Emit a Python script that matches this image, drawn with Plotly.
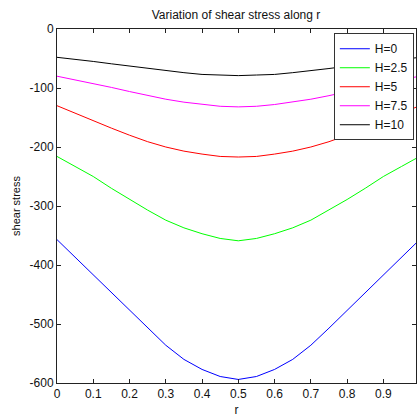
import plotly.graph_objects as go

# radial positions
r = [0.00, 0.05, 0.10, 0.15, 0.20, 0.25, 0.30, 0.35, 0.40, 0.45, 0.50,
     0.55, 0.60, 0.65, 0.70, 0.75, 0.80, 0.85, 0.90, 0.95, 1.00]

# shear stress for each H
tau_h0 = [-357, -387, -417, -447, -477, -507, -536, -560, -577, -589, -594,
          -589, -577, -560, -536, -507, -477, -447, -417, -387, -357]
tau_h2_5 = [-216, -233, -250, -270, -289, -307, -324, -337, -347, -355, -359,
            -355, -347, -337, -324, -307, -289, -270, -250, -233, -216]
tau_h5 = [-130, -143, -155, -168, -180, -191, -200, -207, -212, -216, -217,
          -216, -212, -207, -200, -191, -180, -168, -155, -143, -130]
tau_h7_5 = [-80, -86, -92, -99, -106, -113, -119, -124, -128, -131, -132,
            -131, -128, -124, -119, -113, -106, -99, -92, -86, -80]
tau_h10 = [-48, -51, -55, -59, -63, -67, -71, -74, -77, -78, -79,
           -78, -77, -74, -71, -67, -63, -59, -55, -51, -48]

series = [
    ("H=0", tau_h0, "#0000ff"),
    ("H=2.5", tau_h2_5, "#00ff00"),
    ("H=5", tau_h5, "#ff0000"),
    ("H=7.5", tau_h7_5, "#ff00ff"),
    ("H=10", tau_h10, "#000000"),
]

x_ticks = [0, 0.1, 0.2, 0.3, 0.4, 0.5, 0.6, 0.7, 0.8, 0.9]
x_tick_text = ["0", "0.1", "0.2", "0.3", "0.4", "0.5", "0.6", "0.7", "0.8", "0.9"]
y_ticks = [0, -100, -200, -300, -400, -500, -600]
y_tick_text = ["0", "-100", "-200", "-300", "-400", "-500", "-600"]

font_family = "Liberation Sans Narrow, Liberation Sans, Arial, sans-serif"

fig = go.Figure()
for name, vals, color in series:
    fig.add_trace(go.Scatter(x=r, y=vals, mode="lines", name=name,
                             line=dict(color=color, width=1)))

axis_common = dict(
    showline=True, linecolor="#222222", linewidth=1, mirror="ticks",
    ticks="inside", ticklen=4, tickcolor="#222222",
    showgrid=False, zeroline=False,
    tickfont=dict(family=font_family, size=12, color="#111111"),
)

fig.update_layout(
    width=417, height=417,
    margin=dict(l=57, r=1, t=29, b=34),
    paper_bgcolor="white", plot_bgcolor="white",
    font=dict(family=font_family, size=12, color="#111111"),
    title=dict(text="Variation of shear stress along r", x=0.566, xanchor="center",
               y=1 - 15 / 417, yanchor="middle", yref="container",
               font=dict(family=font_family, size=12, color="#111111")),
    xaxis=dict(range=[0, 0.99], tickvals=x_ticks, ticktext=x_tick_text,
               title=dict(text="r", standoff=5,
                          font=dict(family=font_family, size=12)),
               **axis_common),
    yaxis=dict(range=[-600, 0], tickvals=y_ticks, ticktext=y_tick_text,
               title=dict(text="shear stress", standoff=6,
                          font=dict(family=font_family, size=11)),
               **axis_common),
    legend=dict(x=0.994, xanchor="right", y=0.988, yanchor="top",
                bgcolor="white", bordercolor="#333333", borderwidth=1,
                font=dict(family=font_family, size=12, color="#111111"),
                itemwidth=30, tracegroupgap=0),
    showlegend=True,
)

fig.write_html("out.html")
